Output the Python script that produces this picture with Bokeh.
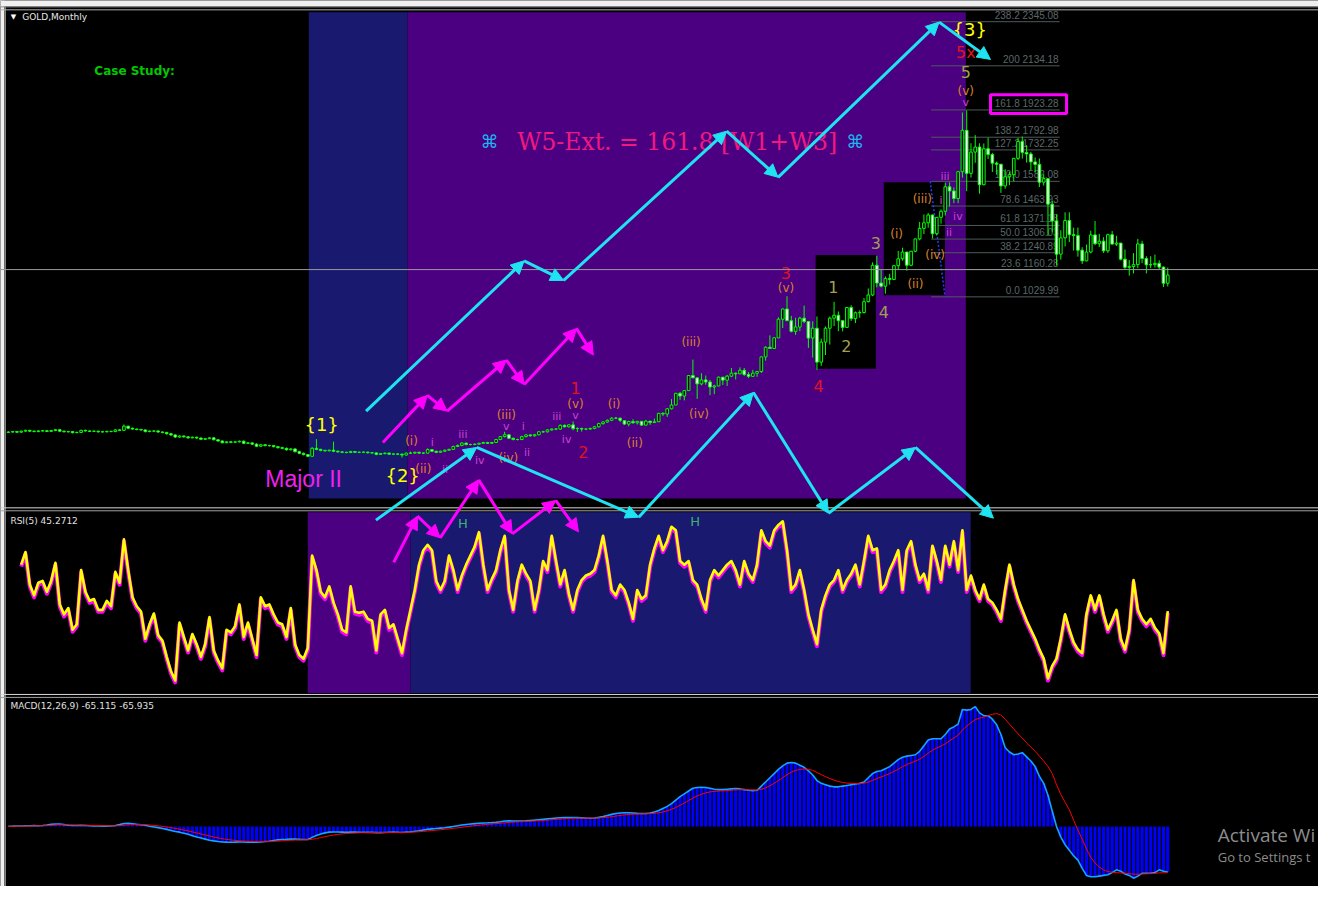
import math
from bokeh.plotting import figure
from bokeh.models import Range1d, Arrow, NormalHead, ColumnDataSource, Span
from bokeh.core.properties import value
from bokeh.embed import file_html
from bokeh.resources import INLINE

nan = float("nan")

# ---------------- DATA (monthly GOLD) ----------------
opens = [
    382, 384, 386, 383, 388, 392, 388, 386, 389, 390,
    387, 391, 395, 388, 385, 386, 381, 382, 392, 389,
    387, 388, 385, 385, 387, 386, 394, 392, 412, 402,
    398, 396, 394, 386, 388, 389, 384, 382, 376, 370,
    360, 365, 361, 356, 359, 355, 349, 352, 356, 347,
    341, 333, 337, 335, 337, 340, 330, 332, 326, 316,
    323, 319, 319, 314, 309, 306, 299, 303, 290, 282,
    276, 268, 306, 301, 296, 294, 297, 292, 289, 287,
    286, 291, 287, 287, 288, 285, 284, 277, 281, 283,
    278, 279, 278, 274, 283, 283, 287, 283, 283, 300,
    292, 287, 292, 297, 301, 315, 320, 331, 324, 324,
    326, 330, 334, 330, 334, 348, 362, 371, 354, 348,
    348, 362, 370, 366, 371, 385, 385, 394, 398, 398,
    416, 409, 418, 400, 401, 398, 398, 401, 409, 424,
    432, 440, 450, 450,
    438, 422, 434, 428, 435, 417, 436, 429, 433, 473, 470, 495,
    513, 569, 556, 582, 654, 643, 614, 633, 623, 599, 604, 646,
    632, 651, 665, 662, 679, 659, 650, 665, 673, 743, 789, 783,
    834, 923, 972, 916, 865, 886, 928, 912, 833, 880, 718, 814,
    880, 928, 942, 916, 884, 979, 926, 954, 955, 1007, 1039, 1181,
    1096, 1081, 1118, 1113, 1179, 1212, 1244, 1181, 1248, 1307, 1357, 1384,
    1421, 1332, 1410, 1439, 1556, 1536, 1500, 1628, 1826, 1620, 1722, 1746,
    1566, 1738, 1710, 1669, 1664, 1560, 1604, 1614, 1692, 1773, 1720, 1713,
    1675, 1663, 1578, 1595, 1473, 1393, 1234, 1312, 1395, 1327, 1323, 1253,
    1202, 1244, 1326, 1284, 1296, 1250, 1327, 1282, 1287, 1210, 1171, 1175,
    1184, 1283, 1213, 1183, 1184, 1190, 1172, 1095,
]
highs = [
    387, 389, 389, 391, 395, 394, 391, 392, 393, 392,
    394, 398, 397, 391, 389, 389, 386, 395, 395, 392,
    391, 390, 388, 390, 390, 397, 398, 420, 414, 405,
    401, 399, 396, 392, 392, 392, 387, 385, 379, 373,
    368, 367, 364, 362, 362, 358, 356, 360, 358, 350,
    344, 340, 340, 340, 343, 343, 336, 335, 330, 327,
    326, 323, 322, 317, 313, 310, 306, 306, 294, 286,
    279, 312, 350, 304, 300, 300, 338, 296, 293, 290,
    294, 293, 291, 291, 290, 288, 286, 284, 286, 286,
    282, 283, 281, 286, 290, 290, 290, 287, 306, 303,
    295, 295, 300, 304, 318, 324, 335, 334, 328, 329,
    333, 337, 337, 337, 351, 365, 385, 373, 357, 352,
    366, 374, 373, 375, 389, 390, 398, 402, 403, 420,
    420, 422, 435, 406, 405, 403, 405, 413, 428, 436,
    444, 455, 456, 453,
    440, 438, 445, 437, 436, 442, 436, 448, 476, 478, 498, 541,
    570, 575, 584, 654, 730, 643, 665, 654, 633, 610, 649, 647,
    657, 690, 669, 693, 690, 670, 681, 675, 745, 794, 846, 838,
    932, 975, 1033, 939, 930, 935, 988, 915, 913, 936, 830, 888,
    936, 1006, 960, 917, 980, 990, 960, 966, 1024, 1070, 1195, 1226,
    1162, 1128, 1140, 1180, 1249, 1265, 1245, 1250, 1308, 1388, 1424, 1431,
    1424, 1411, 1448, 1576, 1577, 1553, 1632, 1911, 1921, 1764, 1803, 1764,
    1763, 1791, 1718, 1677, 1665, 1640, 1628, 1693, 1790, 1796, 1755, 1723,
    1696, 1691, 1616, 1597, 1488, 1424, 1348, 1434, 1434, 1361, 1361, 1267,
    1280, 1346, 1392, 1331, 1315, 1332, 1345, 1322, 1287, 1256, 1206, 1239,
    1307, 1298, 1224, 1224, 1232, 1205, 1175, 1170,
]
lows = [
    379, 381, 380, 381, 385, 385, 383, 383, 386, 384,
    384, 388, 385, 382, 382, 377, 378, 379, 386, 384,
    384, 381, 381, 382, 383, 383, 389, 390, 398, 395,
    392, 390, 382, 383, 385, 380, 378, 371, 365, 355,
    356, 357, 352, 354, 352, 346, 347, 350, 344, 338,
    329, 330, 331, 332, 334, 326, 328, 322, 312, 313,
    315, 314, 310, 305, 302, 295, 296, 286, 278, 272,
    264, 266, 297, 292, 290, 292, 288, 285, 283, 282,
    283, 284, 283, 284, 281, 280, 273, 274, 277, 274,
    274, 274, 262, 271, 279, 280, 280, 279, 280, 288,
    283, 284, 288, 294, 298, 312, 316, 320, 320, 321,
    322, 327, 327, 327, 331, 345, 358, 350, 344, 344,
    345, 358, 362, 362, 368, 380, 381, 390, 393, 394,
    405, 405, 392, 384, 386, 393, 394, 397, 405, 419,
    428, 436, 445, 432,
    418, 411, 424, 420, 414, 414, 418, 429, 433, 460, 456, 492,
    513, 538, 535, 582, 645, 542, 607, 610, 560, 565, 603, 609,
    604, 646, 635, 661, 652, 642, 648, 648, 666, 725, 783, 781,
    834, 881, 917, 860, 848, 866, 904, 786, 740, 681, 700, 752,
    802, 890, 866, 865, 883, 915, 905, 930, 950, 1003, 1033, 1075,
    1075, 1045, 1088, 1110, 1162, 1203, 1155, 1176, 1243, 1300, 1330, 1360,
    1309, 1323, 1380, 1419, 1462, 1478, 1478, 1600, 1535, 1600, 1671, 1523,
    1563, 1689, 1627, 1614, 1527, 1547, 1564, 1582, 1684, 1691, 1672, 1635,
    1626, 1555, 1562, 1321, 1338, 1180, 1208, 1271, 1292, 1251, 1222, 1187,
    1200, 1238, 1277, 1268, 1240, 1240, 1280, 1273, 1204, 1161, 1131, 1142,
    1167, 1191, 1142, 1167, 1170, 1162, 1077, 1080,
]
closes = [
    384, 386, 383, 388, 392, 388, 386, 389, 390, 387,
    391, 395, 388, 385, 386, 381, 382, 392, 389, 387,
    388, 385, 385, 387, 386, 394, 392, 412, 402, 398,
    396, 394, 386, 388, 389, 384, 382, 376, 370, 360,
    365, 361, 356, 359, 355, 349, 352, 356, 347, 341,
    333, 337, 335, 337, 340, 330, 332, 326, 316, 323,
    319, 319, 314, 309, 306, 299, 303, 290, 282, 276,
    268, 306, 301, 296, 294, 297, 292, 289, 287, 286,
    291, 287, 287, 288, 285, 284, 277, 281, 283, 278,
    279, 278, 274, 283, 283, 287, 283, 283, 300, 292,
    287, 292, 297, 301, 315, 320, 331, 324, 324, 326,
    330, 334, 330, 334, 348, 362, 371, 354, 348, 348,
    362, 370, 366, 371, 385, 385, 394, 398, 398, 416,
    409, 418, 400, 401, 398, 398, 401, 409, 424, 432,
    440, 450, 450, 440,
    422, 434, 428, 435, 417, 436, 429, 433, 473, 470, 495, 513,
    569, 556, 582, 654, 643, 614, 633, 623, 599, 604, 646, 632,
    651, 665, 662, 679, 659, 650, 665, 673, 743, 789, 783, 834,
    923, 972, 916, 865, 886, 928, 912, 833, 880, 718, 814, 880,
    928, 942, 916, 884, 979, 926, 954, 955, 1007, 1039, 1181, 1096,
    1081, 1118, 1113, 1179, 1212, 1244, 1181, 1248, 1307, 1357, 1384, 1421,
    1332, 1410, 1439, 1556, 1536, 1500, 1628, 1826, 1620, 1722, 1746, 1566,
    1738, 1710, 1669, 1664, 1560, 1604, 1614, 1692, 1773, 1720, 1713, 1675,
    1663, 1578, 1595, 1473, 1393, 1234, 1312, 1395, 1327, 1323, 1253, 1202,
    1244, 1326, 1284, 1296, 1250, 1327, 1282, 1287, 1210, 1171, 1175, 1184,
    1283, 1213, 1183, 1184, 1190, 1172, 1095, 1134,
]

rsi5 = [
    nan, nan, nan,
    71, 78, 60, 54, 61, 62, 56, 62, 72, 49,
    43.5, 47, 35, 38, 68, 56, 51, 52, 46, 46,
    51, 48, 67, 61, 85, 68, 53, 48, 45, 30,
    38, 44, 32, 29, 20, 12, 7, 39, 31, 23.5,
    32.6, 27, 20, 27, 42, 23.5, 18, 13.6, 35, 33.5,
    37, 49, 31, 39, 30, 21, 53, 48, 49, 43.5,
    39, 38, 31, 47, 27, 21, 19, 25, 76, 68,
    56, 53, 59, 50, 43.5, 35, 33.5, 59, 45, 44.4,
    45, 41, 40, 23.5, 43.5, 46, 36, 38,
    30, 22, 35, 46, 57, 71, 79, 82, 79, 62,
    57, 62, 76, 68, 57, 65, 71, 76, 81, 89,
    71, 57, 63, 68, 79, 87, 57, 46, 62, 71,
    66, 62, 46, 57, 73, 68, 87, 73, 60, 68,
    55, 46,
    57, 62.5, 65, 66, 68, 76, 87, 73, 57, 54,
    60, 57, 50, 41, 57, 52, 54, 71, 80, 87,
    79, 84, 92, 90, 73, 71, 73, 62.5, 60, 52,
    46, 62.5, 68, 65, 68, 71, 73, 68, 60, 73,
    66, 62.5, 71, 90, 84, 81.5, 90, 93, 95, 79,
    57, 60, 68, 57, 43.5, 35, 27, 46, 54, 60,
    62.5, 68, 57, 62.5, 66, 71, 60, 73, 87, 79,
    80, 57, 60, 68, 73, 79, 57, 79, 84, 71,
    62.5, 66, 57, 81.5, 73, 62.5, 81.5, 71, 84, 68,
    90, 57, 65, 57, 52, 60, 52, 50, 46, 41,
    57, 71, 60, 52, 46, 40, 35, 30, 24, 19,
    8, 15, 19, 30, 43.5, 35, 28, 24, 22, 43.5,
    54, 46, 54, 43.5, 35, 40, 46, 30, 24, 35,
    62.5, 46, 41, 38, 41, 36, 33, 22, 45.27,
]

macd_main = [
    0.5, 0.6, 0.8, 0.9, 1.2, 1.3, 1.4, 1.3, 1.6, 2.2,
    3.2, 3.8, 3.6, 2.8, 2.0, 1.6, 1.6, 1.8, 1.5, 1.2,
    1.0, 0.8, 0.7, 0.6, 0.8, 1.5, 2.8, 4.5, 4.7, 4.0,
    3.2, 2.6, 1.8, 0.5, -0.5, -1.5, -2.8, -4.0, -5.5, -7.0,
    -8.0, -9.5, -11.0, -13.0, -15.0, -16.5, -18.0, -19.5, -20.5, -21.3,
    -22.0, -22.3, -22.5, -22.3, -22.0, -22.2, -22.3, -22.2, -22.4, -22.0,
    -21.5, -21.0, -20.0, -19.0, -18.5, -18.3, -18.0, -18.0, -18.3, -18.6,
    -18.5, -15.5, -12.7, -10.5, -9.0, -8.0, -7.8, -7.8, -8.0, -8.2,
    -8.0, -8.0, -8.1, -8.2, -8.3, -8.3, -8.6, -8.6, -8.4, -8.2,
    -8.0, -8.2, -8.5, -8.0, -7.5, -6.8, -6.0, -5.0, -4.0, -3.3,
    -2.8, -2.2, -1.6, -0.8, 0.2, 1.2, 2.3, 3.0, 3.6, 4.2,
    4.8, 5.2, 5.4, 5.7, 6.2, 7.0, 8.0, 8.2, 8.0, 7.9,
    8.1, 8.4, 8.8, 9.2, 9.8, 10.4, 11.0, 11.6, 12.2, 12.6,
    12.8, 13.0, 13.0, 12.8, 12.5, 12.2, 12.0, 12.4, 13.2, 14.5,
    16.0, 17.5, 18.8, 19.5, 19.8, 19.8, 19.5, 19.0, 18.8, 18.8,
    19.5, 21, 23, 26, 29, 33, 38, 43, 47, 51,
    55, 56, 56.5, 56, 55, 53.5, 53, 53, 53.5, 54,
    54.5, 54, 53, 52, 51.5, 52, 58, 64, 70, 76,
    82, 87, 91, 92, 91, 88, 85, 80, 74, 66,
    62, 60, 58, 57, 57, 58, 59, 60, 61, 62,
    64, 70, 76, 79, 80, 83, 86, 91, 96, 99.5,
    101, 102, 103, 108, 116, 124, 126, 126, 126, 132,
    140, 143, 147, 168, 167, 168, 172, 163, 159, 159,
    154, 146, 132, 113, 107, 103, 104, 106, 100, 94,
    86, 72, 62, 45, 22, 0, -15, -26, -34, -42,
    -48, -60, -70, -72, -72, -71, -70, -69, -66, -62,
    -64, -68, -70, -74, -71, -67, -67, -67, -66, -62,
    -64, -65.115,
]
macd_signal = [
    0.3, 0.4, 0.5, 0.6, 0.7, 0.8, 1.0, 1.1, 1.2, 1.4,
    1.8, 2.2, 2.5, 2.6, 2.5, 2.3, 2.2, 2.1, 2.0, 1.8,
    1.6, 1.4, 1.3, 1.1, 1.0, 1.1, 1.4, 2.0, 2.5, 2.8,
    2.9, 2.9, 2.7, 2.3, 1.7, 1.1, 0.3, -0.6, -1.6, -2.7,
    -3.8, -5.0, -6.2, -7.6, -9.1, -10.6, -12.1, -13.6, -15.0, -16.2,
    -17.4, -18.4, -19.2, -19.8, -20.3, -20.7, -21.0, -21.3, -21.5, -21.6,
    -21.6, -21.5, -21.2, -20.8, -20.4, -20.0, -19.6, -19.3, -19.1, -19.0,
    -18.9, -18.2, -17.1, -15.8, -14.5, -13.2, -12.1, -11.2, -10.5, -10.0,
    -9.6, -9.3, -9.0, -8.9, -8.7, -8.6, -8.6, -8.6, -8.5, -8.5,
    -8.4, -8.4, -8.4, -8.3, -8.1, -7.8, -7.4, -6.9, -6.3, -5.7,
    -5.1, -4.5, -3.9, -3.3, -2.6, -1.8, -1.0, -0.2, 0.6, 1.3,
    2.0, 2.7, 3.2, 3.7, 4.2, 4.8, 5.4, 6.0, 6.4, 6.7,
    7.0, 7.3, 7.6, 8.0, 8.4, 8.8, 9.3, 9.8, 10.3, 10.8,
    11.2, 11.6, 11.9, 12.1, 12.2, 12.2, 12.2, 12.2, 12.4, 12.8,
    13.4, 14.2, 15.1, 16.0, 16.8, 17.4, 17.8, 18.1, 18.2, 18.3,
    18.5, 19.0, 19.8, 21.0, 22.6, 24.7, 27.4, 30.5, 33.8, 37.3,
    40.9, 43.9, 46.4, 48.3, 49.7, 50.4, 50.9, 51.3, 51.7, 52.1,
    52.6, 52.9, 52.9, 52.7, 52.5, 52.4, 53.5, 55.6, 58.5, 62.0,
    66.0, 70.2, 74.4, 77.9, 80.5, 82.0, 82.6, 82.1, 80.5, 77.6,
    74.5, 71.6, 68.9, 66.5, 64.6, 63.3, 62.4, 61.9, 61.7, 61.8,
    62.2, 63.8, 66.2, 68.8, 71.1, 73.5, 76.0, 79.0, 82.4, 85.8,
    88.8, 91.5, 93.8, 96.7, 100.6, 105.3, 109.4, 112.7, 115.4, 118.7,
    123.0, 127.0, 131.0, 138.4, 144.1, 148.9, 153.5, 155.4, 157.0, 159.0,
    161.0, 162.0, 160.0, 154.0, 147.0, 140.0, 133.0, 127.0, 120.0, 114.0,
    108.0, 101.0, 94.0, 86.0, 76.0, 60.0, 46.0, 35.0, 24.0, 9.0,
    -5.0, -18.0, -32.0, -44.0, -52.0, -58.0, -62.0, -64.5, -65.5, -66.0,
    -66.5, -67.0, -67.5, -68.2, -68.3, -68.0, -67.7, -67.5, -67.2, -66.3,
    -66.2, -65.935,
]

fib_pct = ["0.0", "23.6", "38.2", "50.0", "61.8", "78.6", "100.0", "127.2", "138.2", "161.8", "200", "238.2"]
fib_price = [1029.99, 1160.28, 1240.89, 1306.03, 1371.18, 1463.93, 1582.08, 1732.25, 1792.98, 1923.28, 2134.18, 2345.08]

# ---------------- LAYOUT (geometry in reference-screen pixels) ----------------
W, H = 1318, 886                 # figure size (fits the window)
SCR_W, SCR_H = 1334, 902         # screen area that the figure spans
BAR0_X, BAR_DX = 8.0, 4.33       # screen x of bar 0 and bar spacing
FIB0_Y, PX_PER_USD = 301.7, 0.2130
RSI0_Y, RSI_PX = 705.0, 1.84
MACD0_Y, MACD_PX = 841.0, 0.71

def bar_at(px):
    return (px - BAR0_X) / BAR_DX

def price_at(py):
    return fib_price[0] + (FIB0_Y - py) / PX_PER_USD

def rsi_at(py, shift=0.0):
    return (RSI0_Y + shift - py) / RSI_PX

def macd_at(py):
    return (MACD0_Y - py) / MACD_PX

p = figure(width=W, height=H,
           x_range=Range1d(bar_at(0), bar_at(SCR_W)),
           y_range=Range1d(SCR_H, 0),
           x_axis_type=None, y_axis_type=None,
           output_backend="svg", toolbar_location=None,
           min_border=0, background_fill_color="black",
           border_fill_color="black", outline_line_color=None)
p.grid.visible = False
p.extra_x_ranges = {"px": Range1d(0, SCR_W)}
p.extra_y_ranges = {
    "price": Range1d(price_at(SCR_H), price_at(0)),
    "rsi": Range1d(rsi_at(SCR_H), rsi_at(0)),
    "rsi_sh": Range1d(rsi_at(SCR_H, 2.0), rsi_at(0, 2.0)),
    "macd": Range1d(macd_at(SCR_H), macd_at(0)),
}

MIDNIGHT = "#191970"
INDIGO = "#4b0082"
CYAN = "#1fe3f0"
MAGENTA = "#ff00ff"

# window chrome
p.quad(left=[0, 0], right=[SCR_W, 4], top=[0, 0], bottom=[6, SCR_H],
       fill_color="#f0f0f0", line_color=None, x_range_name="px")
p.segment(x0=[0, 5], x1=[SCR_W, 5], y0=[6.5, 6.5], y1=[6.5, SCR_H], x_range_name="px",
          line_color="#8a8a8a", line_width=1)

# background bands / boxes
p.quad(left=[312, 412], right=[412, 977], top=[12, 12], bottom=[507, 507],
       fill_color=[MIDNIGHT, INDIGO], line_color=None, x_range_name="px")
p.quad(left=[311, 415], right=[415, 982], top=[521, 521], bottom=[705, 705],
       fill_color=[INDIGO, MIDNIGHT], line_color=None, x_range_name="px")
p.quad(left=[825, 894], right=[886, 956], top=[259, 185], bottom=[375, 300],
       fill_color="black", line_color=None, x_range_name="px")

# panel frames
for yy, col in [(9.5, "#b0b0b0"), (516.5, "#d8d8d8"), (519.5, "#a0a0a0"),
                (706.5, "#d8d8d8"), (709.5, "#a0a0a0")]:
    p.add_layout(Span(location=yy, dimension="width", line_color=col, line_width=1))

# Fibonacci levels
p.add_layout(Span(location=fib_price[1], dimension="width", line_color="#9a9a9a",
                  line_width=1, y_range_name="price"))
p.segment(x0=[942] * len(fib_price), x1=[1072] * len(fib_price), y0=fib_price, y1=fib_price,
          x_range_name="px", y_range_name="price", line_color="#4e5a5a", line_width=1)
p.text(x=[1071] * len(fib_price), y=fib_price,
       text=[f"{a} {b:.2f}" for a, b in zip(fib_pct, fib_price)],
       x_range_name="px", y_range_name="price", text_align="right", text_baseline="bottom",
       y_offset=-1, text_color="#5a6868", text_font=value("Liberation Sans"), text_font_size="10px")
p.segment(x0=[941], x1=[956], y0=[fib_price[6]], y1=[fib_price[0]], x_range_name="px",
          y_range_name="price", line_color="#2a3cff", line_dash="2 2", line_width=1.5)
p.quad(left=[1002], right=[1079], top=[96], bottom=[115], fill_alpha=0,
       line_color=MAGENTA, line_width=3, x_range_name="px")

# candles
idx = list(range(len(closes)))
body_lo = [min(o, c) for o, c in zip(opens, closes)]
body_hi = [max(o, c) for o, c in zip(opens, closes)]
body_fill = ["#000000" if c > o else "#ffffff" for o, c in zip(opens, closes)]
csrc = ColumnDataSource(dict(i=idx, lo=lows, hi=highs, blo=body_lo, bhi=body_hi, fill=body_fill))
p.segment(x0="i", x1="i", y0="lo", y1="hi", source=csrc, y_range_name="price",
          line_color="#00ff00", line_width=1)
p.vbar(x="i", width=0.62, bottom="blo", top="bhi", source=csrc, y_range_name="price",
       fill_color="fill", line_color="#00ff00", line_width=1)

# RSI
ridx = list(range(len(rsi5)))
p.line(ridx, rsi5, y_range_name="rsi_sh", line_color=MAGENTA, line_width=4, line_join="round")
p.line(ridx, rsi5, y_range_name="rsi", line_color="#ffff00", line_width=2.6, line_join="round")

# MACD
midx = list(range(len(macd_main)))
p.vbar(x=midx, width=0.7, bottom=0, top=macd_main, y_range_name="macd",
       fill_color="#0000ff", line_color=None)
p.line(midx, macd_main, y_range_name="macd", line_color="#12a6ff", line_width=1.6)
sidx = list(range(len(macd_signal)))
p.line(sidx, macd_signal, y_range_name="macd", line_color="#ff0000", line_width=1)

# texts
def add_texts(items, color, size, font="DejaVu Sans", style="normal", align="center",
              baseline="middle"):
    p.text(x=[t[0] for t in items], y=[t[1] for t in items], text=[t[2] for t in items],
           x_range_name="px", text_color=color, text_font=value(font), text_font_size=size,
           text_font_style=style, text_align=align, text_baseline=baseline)

add_texts([(13, 17, "\u25bc")], "#ffffff", "7px")
add_texts([(22, 17, "GOLD,Monthly")], "#e8e8e8", "9px", align="left")
add_texts([(10, 530, "RSI(5) 45.2712")], "#e0e0e0", "9px", align="left")
add_texts([(10, 718, "MACD(12,26,9) -65.115 -65.935")], "#e0e0e0", "9px", align="left")
add_texts([(95, 72, "Case Study:")], "#00c800", "12px", style="bold", align="left")
add_texts([(495, 144, "\u2318"), (865, 144, "\u2318")], "#19b6f0", "18px")
add_texts([(523, 144, "W5-Ext. = 161.8 [W1+W3]")], "#ee1a80", "23.5px", font="DejaVu Serif",
          align="left")
add_texts([(268, 487, "Major II")], "#ee22ee", "23px", font="Liberation Sans", align="left")
add_texts([(325, 432, "{1}"), (407, 484, "{2}"), (981, 30, "{3}")], "#ffff00", "18px")
add_texts([(416, 448, "(i)"), (428, 477, "(ii)"), (512, 422, "(iii)"), (514, 466, "(iv)"),
           (582, 411, "(v)"), (621, 411, "(i)"), (642, 450, "(ii)"), (699, 348, "(iii)"),
           (707, 421, "(iv)"), (795, 293, "(v)"), (907, 238, "(i)"), (926, 289, "(ii)"),
           (933, 202, "(iii)"), (946, 259, "(iv)"), (977, 92, "(v)")], "#d9822b", "12px")
add_texts([(437, 450, "i"), (450, 477, "ii"), (468, 442, "iii"), (485, 468, "iv"),
           (512, 434, "v"), (529, 434, "i"), (533, 460, "ii"), (563, 424, "iii"),
           (573, 447, "iv"), (582, 423, "v"), (956, 179, "iii"), (952, 204, "i"),
           (969, 220, "iv"), (960, 236, "ii"), (977, 104, "v")], "#c844d0", "11px")
add_texts([(582, 395, "1"), (590, 460, "2"), (795, 277, "3"), (828, 392, "4"),
           (977, 53, "5x")], "#e0141e", "16px")
add_texts([(843, 292, "1"), (856, 352, "2"), (886, 247, "3"), (894, 317, "4"),
           (977, 73, "5")], "#a0a050", "16px")
add_texts([(468, 532, "H"), (703, 530, "H")], "#3cb371", "13px")
# the OS watermark is only partly on screen in the reference
add_texts([(1232, 850, "Activate Wi")], "#8c8c8c", "19px", font="Open Sans", align="left")
add_texts([(1232, 872, "Go to Settings t")], "#8c8c8c", "13px", font="Open Sans", align="left")

# drawn arrows
def zigzag(points, color):
    for (x0, y0), (x1, y1) in zip(points[:-1], points[1:]):
        p.add_layout(Arrow(end=NormalHead(size=13, fill_color=color, line_color=color),
                           x_start=x0, y_start=y0, x_end=x1, y_end=y1,
                           x_range_name="px", line_color=color, line_width=3))

zigzag([(370, 418), (530, 265), (570, 285), (735, 133), (787, 180), (950, 22), (1002, 60)], CYAN)
zigzag([(380, 529), (482, 455), (646, 526), (762, 399), (838, 522), (926, 455), (1005, 527)], CYAN)
zigzag([(387, 450), (432, 402), (452, 418), (512, 366), (530, 391), (583, 334), (600, 361)], MAGENTA)
zigzag([(398, 572), (422, 525), (445, 547), (484, 488), (518, 543), (562, 509), (585, 541)], MAGENTA)

open("out.html", "w").write(file_html(p, INLINE))
